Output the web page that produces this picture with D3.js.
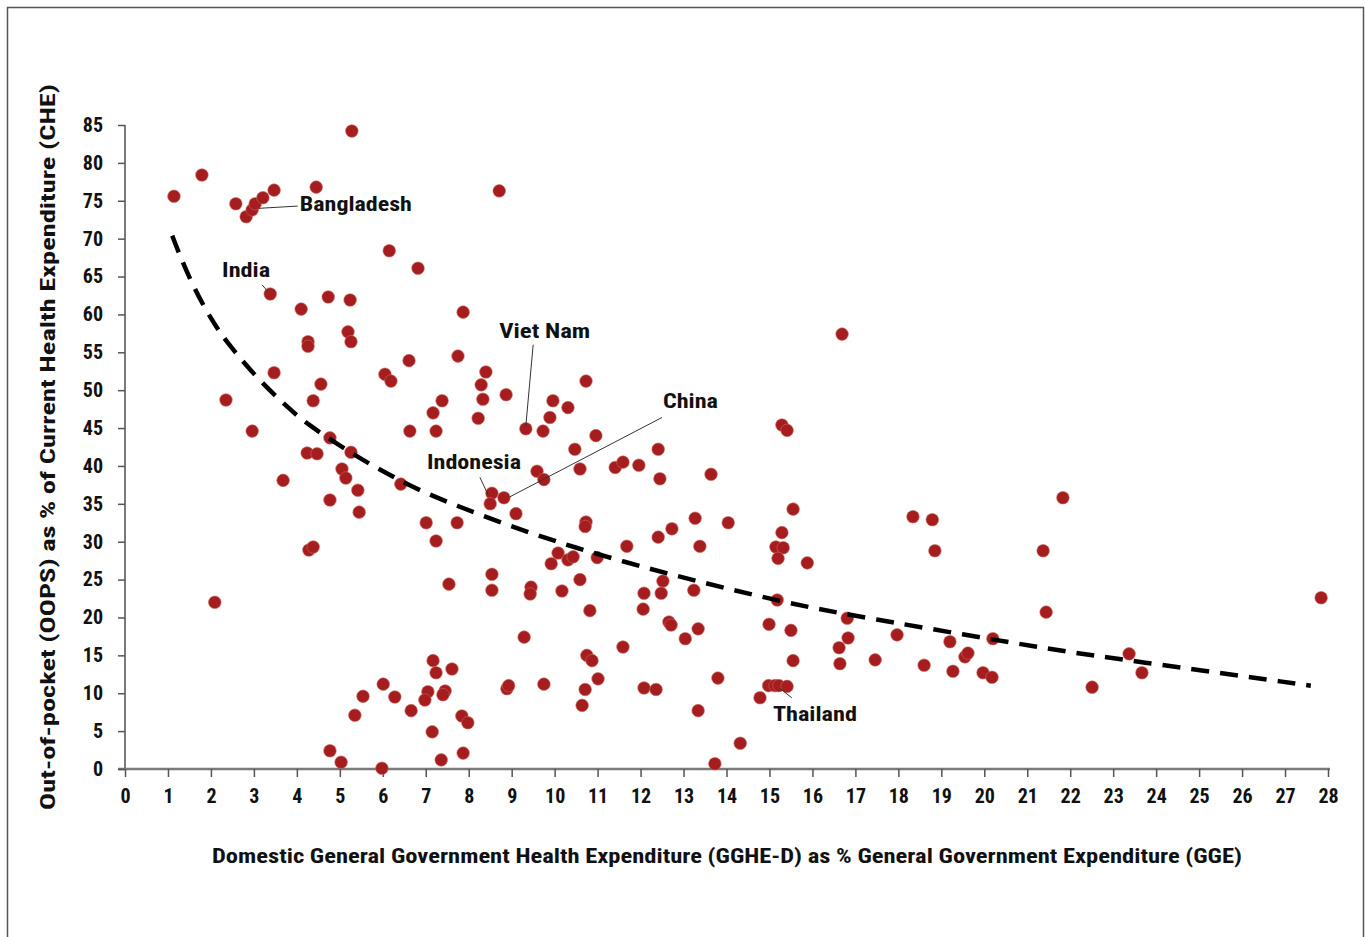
<!DOCTYPE html>
<html>
<head>
<meta charset="utf-8">
<script src="https://cdn.jsdelivr.net/npm/d3@7"></script>
<style>
  html, body { margin: 0; padding: 0; background: #fff; }
  svg text { font-family: "Liberation Sans Narrow", "Roboto Condensed", "Liberation Sans", Arial, sans-serif; font-weight: bold; fill: #111; }
</style>
</head>
<body>
<svg id="chart" width="1365" height="937"></svg>
<script>
// ---- Data ----
const gghe = [1.14,1.79,2.58,2.82,2.96,3.03,3.21,3.47,4.45,5.28,3.38,4.10,4.73,5.24,6.15,6.82,4.26,4.26,5.19,5.26,
  8.71,7.87,3.47,2.35,4.56,4.38,6.05,6.19,6.61,7.38,7.17,6.63,7.24,2.96,4.77,4.24,4.47,5.26,5.05,5.14,
  5.42,3.68,4.77,5.45,6.42,7.01,7.24,4.28,4.38,7.54,7.75,8.40,8.29,8.33,8.87,8.22,9.33,9.73,9.96,9.89,
  10.31,10.73,10.96,10.47,10.59,9.59,9.75,11.41,11.59,11.96,12.41,12.45,13.64,8.54,8.50,8.82,9.10,7.73,10.73,10.71,
  13.27,14.04,12.73,12.41,13.38,11.68,10.08,10.31,10.43,9.92,10.99,8.54,10.59,12.52,8.54,9.45,9.43,10.17,10.82,12.08,
  12.06,12.48,13.24,12.66,12.71,13.04,13.34,9.29,11.59,10.75,10.87,11.01,10.71,10.64,9.75,8.89,8.93,12.08,12.36,13.80,
  13.34,14.32,13.73,7.17,7.24,7.61,7.05,6.98,7.45,7.40,6.66,7.15,7.84,7.98,7.87,7.36,2.09,4.77,5.03,5.98,
  5.35,5.54,6.01,6.28,16.69,15.29,15.41,15.55,18.34,18.79,18.85,21.37,15.29,15.15,15.32,15.20,15.88,21.83,27.84,15.18,
  14.99,15.50,15.55,14.78,14.98,15.13,15.22,15.41,16.81,16.83,16.62,16.64,17.46,17.97,18.60,19.20,19.27,19.55,19.62,19.97,
  20.18,20.20,21.44,22.51,23.37,23.67];
const oops = [75.6,78.4,74.6,72.9,73.8,74.6,75.4,76.4,76.8,84.2,62.7,60.7,62.3,61.9,68.4,66.1,56.4,55.8,57.7,56.4,
  76.3,60.3,52.3,48.7,50.8,48.6,52.1,51.2,53.9,48.6,47.0,44.6,44.6,44.6,43.7,41.7,41.6,41.8,39.6,38.4,
  36.8,38.1,35.5,33.9,37.6,32.5,30.1,28.9,29.3,24.4,54.5,52.4,50.7,48.8,49.4,46.3,44.9,44.6,48.6,46.4,
  47.7,51.2,44.0,42.2,39.6,39.3,38.2,39.8,40.5,40.1,42.2,38.3,38.9,36.4,35.0,35.8,33.7,32.5,32.6,32.0,
  33.1,32.5,31.7,30.6,29.4,29.4,28.5,27.6,28.0,27.1,27.9,25.7,25.0,24.8,23.6,24.0,23.1,23.5,20.9,23.2,
  21.1,23.2,23.6,19.4,19.0,17.2,18.5,17.4,16.1,15.0,14.3,11.9,10.5,8.4,11.2,10.6,11.0,10.7,10.5,12.0,
  7.7,3.4,0.7,14.3,12.7,13.2,10.2,9.1,10.3,9.8,7.7,4.9,7.0,6.1,2.1,1.2,22.0,2.4,0.9,0.1,
  7.1,9.6,11.2,9.5,57.4,45.4,44.7,34.3,33.3,32.9,28.8,28.8,31.2,29.3,29.2,27.8,27.2,35.8,22.6,22.3,
  19.1,18.3,14.3,9.4,11.0,11.0,11.0,10.9,19.9,17.3,16.0,13.9,14.4,17.7,13.7,16.8,12.9,14.8,15.3,12.7,
  12.1,17.2,20.7,10.8,15.2,12.7];

// trend line (dashed)
const trendX = [1.10,1.21,1.58,2.02,2.37,3.07,3.77,4.24,5.31,5.94,6.59,7.40,10.29,14.39,16.06,16.80,21.70,23.30,27.60];
const trendY = [70.4,68.7,63.7,59.2,56.3,51.6,47.8,45.5,41.5,39.5,37.5,35.4,29.2,23.2,21.2,20.4,15.6,14.4,11.0];

const xTicks = d3.range(0, 29, 1);
const yTicks = d3.range(0, 86, 5);

// annotations: label, text position (data units), leader from -> to (data units)
const annoNames = ["Bangladesh","India","Viet Nam","China","Indonesia","Thailand"];
const annoText  = [[4.07,73.6],[2.26,65.0],[8.71,56.9],[12.52,47.6],[7.03,39.6],[15.08,6.4]];
const annoLine  = [[[4.02,74.3],[3.12,74.0]],[[3.19,63.9],[3.33,63.0]],[[9.50,56.0],[9.33,45.3]],
                   [[12.50,46.4],[8.95,35.9]],[[8.26,38.5],[8.45,36.2]],[[15.25,10.6],[15.52,9.4]]];
const annoWidth = [112,48,91,55,94,84];

// ---- Chart ----
const svg = d3.select("#chart");
svg.append("rect").attr("x",7.5).attr("y",7.5).attr("width",1356).attr("height",940)
  .attr("fill","none").attr("stroke","#555").attr("stroke-width",1.5);

const x = d3.scaleLinear().domain([0,28]).range([125,1328]);
const y = d3.scaleLinear().domain([0,85]).range([769,125]);

// x axis
const xa = svg.append("g").attr("transform","translate(0,769)")
  .call(d3.axisBottom(x).tickValues(xTicks).tickSize(8).tickSizeOuter(0).tickFormat(d3.format("d")));
xa.select(".domain").attr("stroke","#7a7a7a").attr("stroke-width",2.5).attr("d","M118,0H1330");
xa.selectAll(".tick line").attr("stroke","#555").attr("stroke-width",1.5);
xa.selectAll(".tick text").attr("y",20).attr("font-size",20).attr("fill","#111");

// y axis
const ya = svg.append("g").attr("transform","translate(125,0)")
  .call(d3.axisLeft(y).tickValues(yTicks).tickSize(7).tickSizeOuter(0).tickFormat(d3.format("d")));
ya.select(".domain").attr("stroke","#7a7a7a").attr("stroke-width",2).attr("d","M0,125V769");
ya.selectAll(".tick line").attr("stroke","#555").attr("stroke-width",1.5);
ya.selectAll(".tick text").attr("x",-22).attr("font-size",20).attr("fill","#111");

// axis titles
svg.append("text").attr("x",727).attr("y",863).attr("text-anchor","middle").attr("font-size",21)
  .attr("textLength",1030).attr("lengthAdjust","spacingAndGlyphs")
  .text("Domestic General Government Health Expenditure (GGHE-D) as % General Government Expenditure (GGE)");
svg.append("text").attr("transform","translate(55,447) rotate(-90)").attr("text-anchor","middle").attr("font-size",21)
  .attr("textLength",726).attr("lengthAdjust","spacingAndGlyphs")
  .text("Out-of-pocket (OOPS) as % of Current Health Expenditure (CHE)");

// points
const pts = gghe.map((g,i)=>({g, o: oops[i]}));
svg.append("g").selectAll("circle").data(pts).join("circle")
  .attr("cx",d=>x(d.g)).attr("cy",d=>y(d.o)).attr("r",6.3)
  .attr("fill","#a51d1f").attr("stroke","#c86a5e").attr("stroke-width",0.6);

// trend line
const trend = trendX.map((t,i)=>[t,trendY[i]]);
svg.append("path").datum(trend)
  .attr("d", d3.line().x(d=>x(d[0])).y(d=>y(d[1])).curve(d3.curveBasis))
  .attr("fill","none").attr("stroke","#000").attr("stroke-width",4.5)
  .attr("stroke-dasharray","18,11");

// annotations
const ag = svg.append("g");
annoNames.forEach((n,i)=>{
  const l = annoLine[i];
  ag.append("line").attr("x1",x(l[0][0])).attr("y1",y(l[0][1])).attr("x2",x(l[1][0])).attr("y2",y(l[1][1]))
    .attr("stroke","#333").attr("stroke-width",1);
  ag.append("text").attr("x",x(annoText[i][0])).attr("y",y(annoText[i][1])).attr("font-size",21)
    .attr("textLength",annoWidth[i]).attr("lengthAdjust","spacingAndGlyphs").text(n);
});
</script>
</body>
</html>
